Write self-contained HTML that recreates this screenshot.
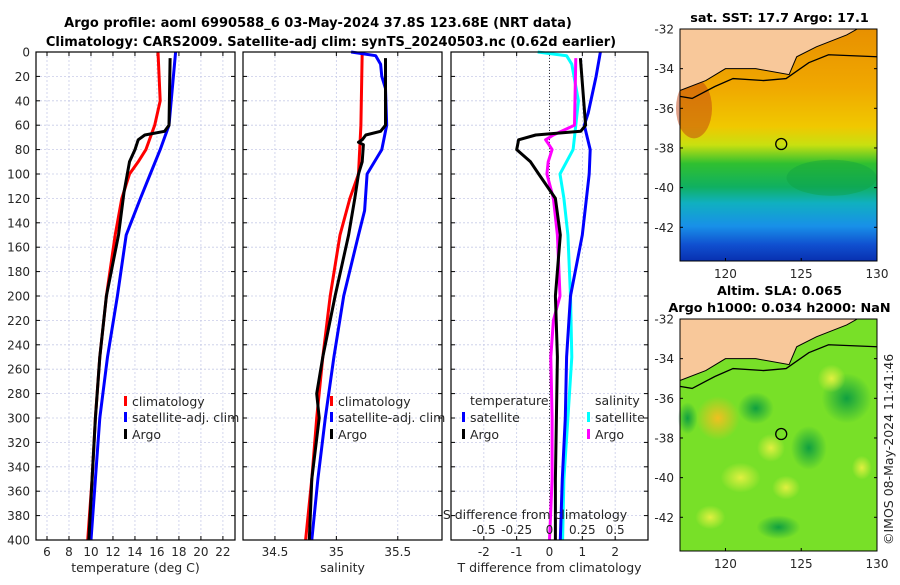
<!DOCTYPE html>
<html><head><meta charset="utf-8">
<style>
body{margin:0;background:#fff;}
svg text{font-family:"DejaVu Sans","Liberation Sans",sans-serif;fill:#262626;}
.b{font-weight:bold;fill:#000;}
</style></head>
<body>
<svg id="c" width="900" height="580" xmlns="http://www.w3.org/2000/svg">
<defs>
<linearGradient id="sst" x1="0" y1="0" x2="0" y2="1">
<stop offset="0" stop-color="#e89000"/><stop offset="0.25" stop-color="#f0a800"/>
<stop offset="0.42" stop-color="#f0c800"/><stop offset="0.5" stop-color="#c8e010"/>
<stop offset="0.58" stop-color="#30c030"/><stop offset="0.68" stop-color="#10b060"/>
<stop offset="0.75" stop-color="#10b0c0"/><stop offset="0.85" stop-color="#1890e8"/>
<stop offset="0.93" stop-color="#1050d0"/><stop offset="1" stop-color="#0830b0"/>
</linearGradient>
<radialGradient id="y1"><stop offset="0" stop-color="#f0c020"/><stop offset="1" stop-color="#f0c020" stop-opacity="0"/></radialGradient>
<radialGradient id="g1"><stop offset="0" stop-color="#10a040"/><stop offset="1" stop-color="#10a040" stop-opacity="0"/></radialGradient>
<radialGradient id="l1"><stop offset="0" stop-color="#e0f040"/><stop offset="1" stop-color="#e0f040" stop-opacity="0"/></radialGradient>
</defs>
<g id="titles">
<text class="b" x="318" y="27" font-size="13" text-anchor="middle">Argo profile: aoml 6990588_6 03-May-2024 37.8S 123.68E (NRT data)</text>
<text class="b" x="331" y="46" font-size="13" text-anchor="middle">Climatology: CARS2009. Satellite-adj clim: synTS_20240503.nc (0.62d earlier)</text>
</g>
<g id="panels"></g>
<g id="maps"></g>
</svg>
<script>
// ---- data ----
const tDepthClim=[0,40,60,70,80,90,100,120,150,200,250,300,350,400];
const tClim=[16.1,16.3,15.8,15.4,15.0,14.3,13.5,12.8,12.2,11.4,10.8,10.4,10.1,9.7];
const tDepthSat=[0,60,80,100,120,150,200,250,300,350,400];
const tSat=[17.7,17.1,16.3,15.4,14.5,13.2,12.4,11.5,10.8,10.4,10.0];
const tDepthArgo=[5,60,65,68,72,80,90,100,115,150,200,250,300,350,400];
const tArgo=[17.2,17.1,16.7,14.9,14.3,14.0,13.5,13.3,13.0,12.5,11.4,10.8,10.4,10.1,9.8];
const sDepthClim=[0,60,100,120,150,200,250,300,350,400];
const sClim=[35.21,35.2,35.18,35.11,35.03,34.95,34.89,34.84,34.80,34.75];
const sDepthSat=[0,3,10,20,30,60,80,100,130,150,200,250,300,350,400];
const sSat=[35.12,35.32,35.36,35.37,35.40,35.41,35.37,35.25,35.23,35.18,35.06,34.98,34.91,34.85,34.80];
const sDepthArgo=[5,60,65,68,72,74,76,90,100,120,150,200,250,280,300,350,400];
const sArgo=[35.40,35.40,35.36,35.24,35.21,35.18,35.22,35.21,35.18,35.15,35.10,34.99,34.89,34.84,34.86,34.80,34.78];
const dDepthSsat=[0,3,10,40,60,80,100,120,150,200,250,300,350,400];
const dSsat=[-0.09,0.13,0.17,0.22,0.20,0.18,0.08,0.11,0.14,0.16,0.17,0.14,0.11,0.10];
const dDepthSargo=[5,60,68,72,75,80,90,100,120,150,200,220,250,300,350,400];
const dSargo=[0.20,0.19,0.03,-0.03,-0.01,0.02,-0.01,-0.02,0.03,0.06,0.08,0.03,0.01,0.02,0.02,0.0];
const dDepthTargo=[5,60,65,68,72,80,90,100,120,150,200,250,300,350,400];
const dTargo=[0.94,1.1,0.95,-0.42,-0.94,-1.0,-0.58,-0.33,0.18,0.33,0.18,0.24,0.21,0.18,0.18];
const dDepthTsat=[0,20,50,60,80,100,150,200,250,300,350,400];
const dTsat=[1.55,1.42,1.18,1.06,1.24,1.21,1.0,0.64,0.52,0.48,0.39,0.33];
const depthTicks=[0,20,40,60,80,100,120,140,160,180,200,220,240,260,280,300,320,340,360,380,400];
const tTicks=[6,8,10,12,14,16,18,20,22];
const sTicks=[34.5,35,35.5];
const dTTicks=[-2,-1,0,1,2];
const dSTicks=[-0.5,-0.25,0,0.25,0.5];
const latTicks=[-32,-34,-36,-38,-40,-42];
const lonTicks=[120,125,130];

const NS="http://www.w3.org/2000/svg";
function mk(tag,attrs,parent,txt){const e=document.createElementNS(NS,tag);for(const k in attrs)e.setAttribute(k,attrs[k]);if(txt!==undefined)e.textContent=txt;parent.appendChild(e);return e;}
const Y0=52,Y1=540;
const yD=d=>Y0+(d/400)*(Y1-Y0);
const panelsG=document.getElementById('panels');
const panels=[
 {x0:36,x1:235,lo:5,hi:23.1,ticks:tTicks,label:'temperature (deg C)',name:'temperature-panel'},
 {x0:243,x1:442,lo:34.24,hi:35.86,ticks:sTicks,label:'salinity',name:'salinity-panel'},
 {x0:451,x1:648,lo:-3,hi:3,ticks:dTTicks,label:'T difference from climatology',name:'difference-panel'}
];
panels.forEach((p,i)=>{
 const g=mk('g',{},panelsG);
 
 
 p.sx=v=>p.x0+(v-p.lo)/(p.hi-p.lo)*(p.x1-p.x0);
 depthTicks.forEach(d=>{
  if(d>0&&d<400)mk('line',{x1:p.x0,x2:p.x1,y1:yD(d),y2:yD(d),stroke:'#c8cce8','stroke-dasharray':'2,2','stroke-width':0.8},g);
  mk('line',{x1:p.x0,x2:p.x0+4,y1:yD(d),y2:yD(d),stroke:'#000'},g);
  mk('line',{x1:p.x1-4,x2:p.x1,y1:yD(d),y2:yD(d),stroke:'#000'},g);
 });
 p.ticks.forEach(t=>{
  const x=p.sx(t);
  mk('line',{x1:x,x2:x,y1:Y0,y2:Y1,stroke:'#c8cce8','stroke-dasharray':'2,2','stroke-width':0.8},g);
  mk('line',{x1:x,x2:x,y1:Y1-4,y2:Y1,stroke:'#000'},g);
  mk('line',{x1:x,x2:x,y1:Y0,y2:Y0+4,stroke:'#000'},g);
  const tl=mk('text',{x:x,y:556,'font-size':12,'text-anchor':'middle'},g,String(t));
  
  
 });
 const xl=mk('text',{x:(p.x0+p.x1)/2,y:572,'font-size':12.5,'text-anchor':'middle'},g,p.label);
 
 
});
depthTicks.forEach(d=>{
 const t=mk('text',{x:30,y:yD(d)+4.5,'font-size':12,'text-anchor':'end'},panelsG,String(d));
 
 
});
const P3=panels[2];
mk('line',{x1:P3.sx(0),x2:P3.sx(0),y1:Y0,y2:Y1,stroke:'#333','stroke-dasharray':'1,2','stroke-width':1},panelsG);
const sx3=v=>P3.sx(v*4);
function line(xs,ds,sx,color,name){
 const pts=xs.map((v,i)=>sx(v).toFixed(1)+','+yD(ds[i]).toFixed(1)).join(' ');
 const e=mk('polyline',{points:pts,fill:'none',stroke:color,'stroke-width':3,'stroke-linejoin':'round'},panelsG);
 
 
}
line(tClim,tDepthClim,panels[0].sx,'#ff0000','temp-climatology-line');
line(tSat,tDepthSat,panels[0].sx,'#0000ff','temp-satellite-line');
line(tArgo,tDepthArgo,panels[0].sx,'#000','temp-argo-line');
line(sClim,sDepthClim,panels[1].sx,'#ff0000','sal-climatology-line');
line(sSat,sDepthSat,panels[1].sx,'#0000ff','sal-satellite-line');
line(sArgo,sDepthArgo,panels[1].sx,'#000','sal-argo-line');
line(dSsat,dDepthSsat,sx3,'#00ffff','sdiff-satellite-line');
line(dTsat,dDepthTsat,P3.sx,'#0000ff','tdiff-satellite-line');
line(dSargo,dDepthSargo,sx3,'#ff00ff','sdiff-argo-line');
line(dTargo,dDepthTargo,P3.sx,'#000','tdiff-argo-line');
panels.forEach(p=>{mk('rect',{x:p.x0,y:Y0,width:p.x1-p.x0,height:Y1-Y0,fill:'none',stroke:'#000','stroke-width':1.2},panelsG);});
const st=mk('text',{x:535,y:519,'font-size':12.5,'text-anchor':'middle'},panelsG,'S difference from climatology');


dSTicks.forEach(t=>{
 const e=mk('text',{x:sx3(t),y:534,'font-size':12,'text-anchor':'middle'},panelsG,String(t));
 
 
});
function leg(x,y,color,label){
 mk('rect',{x:x,y:y-10,width:3,height:10,fill:color},panelsG);
 const e=mk('text',{x:x+8,y:y,'font-size':12.5},panelsG,label);
 
 
}
leg(124,406,'#ff0000','climatology');leg(124,422,'#0000ff','satellite-adj. clim');leg(124,439,'#000','Argo');
leg(330,406,'#ff0000','climatology');leg(330,422,'#0000ff','satellite-adj. clim');leg(330,439,'#000','Argo');
mk('text',{x:470,y:405,'font-size':12.5},panelsG,'temperature');
leg(462,422,'#0000ff','satellite');leg(462,439,'#000','Argo');
mk('text',{x:595,y:405,'font-size':12.5},panelsG,'salinity');
leg(587,422,'#00ffff','satellite');leg(587,439,'#ff00ff','Argo');

const mapsG=document.getElementById('maps');
function map(top,kind,titleLines){
 const x0=680,x1=877,y0=top,y1=top+232;
 const g=mk('g',{},mapsG);
 
 
 const lonX=l=>x0+(l-117)/(130.0-117)*(x1-x0);
 const latY=l=>y0+(-32-l)/(43.7-32)*(y1-y0);
 if(kind==='sst'){
  mk('rect',{x:x0,y:y0,width:x1-x0,height:y1-y0,fill:'url(#sst)'},g);
  mk('ellipse',{cx:x0+14,cy:latY(-36),rx:18,ry:30,fill:'#c04010',opacity:0.5},g);
  mk('ellipse',{cx:lonX(127),cy:latY(-39.5),rx:45,ry:18,fill:'#10a040',opacity:0.4},g);
 }else{
  mk('rect',{x:x0,y:y0,width:x1-x0,height:y1-y0,fill:'#78e028'},g);
  [[119.5,-37,22,22,'y1'],[123,-38.5,14,14,'l1'],[125.5,-38.5,18,22,'g1'],[128,-36,25,25,'g1'],[122,-36.5,18,16,'g1'],[127,-35,14,14,'l1'],[123.5,-42.5,22,12,'g1'],[119,-42,15,12,'l1'],[129,-39.5,10,12,'l1'],[117.5,-37,10,16,'g1'],[121,-40,20,15,'l1'],[124,-40.5,14,12,'l1']].forEach(b=>{
   mk('ellipse',{cx:lonX(b[0]),cy:latY(b[1]),rx:b[2],ry:b[3],fill:'url(#'+b[4]+')'},g);
  });
 }
 const land=[[117,-32],[130,-32],[128.7,-32],[128,-32.3],[126,-32.9],[124.7,-33.4],[124.2,-34.3],[122,-34],[120,-34],[118.7,-34.6],[117,-35.1]];
 mk('polygon',{points:land.map(p=>lonX(p[0])+','+latY(p[1])).join(' '),fill:'#f8c89a',stroke:'#000','stroke-width':1},g);
 const iso=[[117,-35.4],[117.8,-35.5],[119.3,-34.9],[120.5,-34.5],[122.5,-34.6],[124,-34.5],[125.5,-33.7],[126.8,-33.3],[130,-33.4]];
 mk('polyline',{points:iso.map(p=>lonX(p[0])+','+latY(p[1])).join(' '),fill:'none',stroke:'#000','stroke-width':1.3},g);
 mk('circle',{cx:lonX(123.68),cy:latY(-37.8),r:5.5,fill:'none',stroke:'#000','stroke-width':1.3},g);
 mk('rect',{x:x0,y:y0,width:x1-x0,height:y1-y0,fill:'none',stroke:'#000','stroke-width':1},g);
 latTicks.forEach(l=>{
  const y=latY(l);
  mk('line',{x1:x0,x2:x0+3,y1:y,y2:y,stroke:'#000'},g);mk('line',{x1:x1-3,x2:x1,y1:y,y2:y,stroke:'#000'},g);
  const t=mk('text',{x:x0-6,y:y+4.5,'font-size':12,'text-anchor':'end'},g,String(l));
  
  
 });
 lonTicks.forEach(l=>{
  const x=lonX(l);
  mk('line',{x1:x,x2:x,y1:y1-3,y2:y1,stroke:'#000'},g);
  const t=mk('text',{x:x,y:y1+17,'font-size':12,'text-anchor':'middle'},g,String(l));
  
  
 });
 titleLines.forEach((s,i)=>{
  const t=mk('text',{x:(x0+x1)/2+1,y:y0-7-(titleLines.length-1-i)*17,'font-size':12.8,'text-anchor':'middle','class':'b'},g,s);
  
  
 });
}
map(29,'sst',['sat. SST: 17.7 Argo: 17.1']);
map(319,'sla',['Altim. SLA: 0.065','Argo h1000: 0.034 h2000: NaN']);
const cp=mk('text',{x:0,y:0,'font-size':12.5,transform:'translate(893,545) rotate(-90)'},mapsG,'©IMOS 08-May-2024 11:41:46');


</script>
</body></html>
